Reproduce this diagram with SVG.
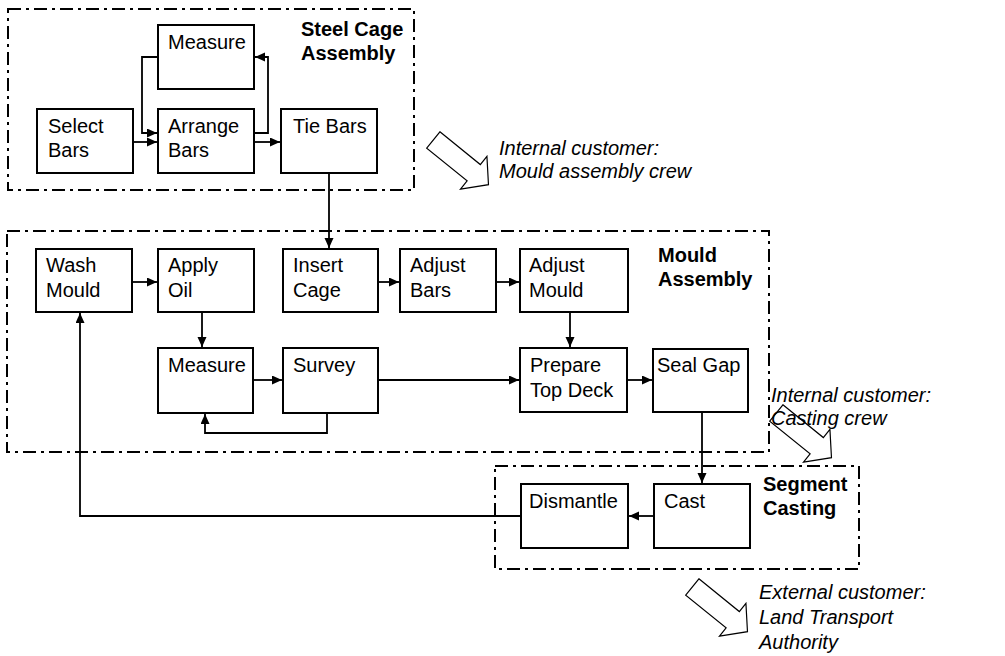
<svg xmlns="http://www.w3.org/2000/svg" width="1005" height="656" viewBox="0 0 1005 656">
<style>
text{font-family:"Liberation Sans",Arial,sans-serif;font-size:20px;fill:#000}
.t{font-weight:bold}
.i{font-style:italic}
.box{fill:#fff;stroke:#000;stroke-width:2}
.grp{fill:none;stroke:#000;stroke-width:2;stroke-dasharray:13 5 3 5}
.c{fill:none;stroke:#000;stroke-width:1.8}
.blk{fill:#fff;stroke:#000;stroke-width:1.2}
</style>
<defs>
<marker id="ah" markerUnits="userSpaceOnUse" markerWidth="12" markerHeight="10" refX="10" refY="4.5" orient="auto"><path d="M0,0 L10,4.5 L0,9 z" fill="#000"/></marker>
<polygon id="blkarrow" points="0,-10.5 52,-10.5 52,-21 71,0 52,21 52,10.5 0,10.5"/>
</defs>
<rect width="1005" height="656" fill="#fff"/>

<g id="groups">
<rect class="grp" x="8" y="9" width="406" height="181"/>
<rect class="grp" x="7" y="231" width="762" height="221"/>
<rect class="grp" x="495" y="466" width="364" height="103"/>
<text class="t" x="301" y="36">Steel Cage</text>
<text class="t" x="301" y="60">Assembly</text>
<text class="t" x="658" y="262">Mould</text>
<text class="t" x="658" y="286">Assembly</text>
<text class="t" x="763" y="491">Segment</text>
<text class="t" x="763" y="515">Casting</text>
</g>

<g id="connectors">
<path class="c" d="M133,142 H157" marker-end="url(#ah)"/>
<path class="c" d="M254,142 H280" marker-end="url(#ah)"/>
<path class="c" d="M158,57 H142 V133 H157" marker-end="url(#ah)"/>
<path class="c" d="M254,133 H268 V57 H255" marker-end="url(#ah)"/>
<path class="c" d="M329,173 V248" marker-end="url(#ah)"/>
<path class="c" d="M132,282 H157" marker-end="url(#ah)"/>
<path class="c" d="M378,282 H399" marker-end="url(#ah)"/>
<path class="c" d="M496,282 H519" marker-end="url(#ah)"/>
<path class="c" d="M202,312 V347" marker-end="url(#ah)"/>
<path class="c" d="M253,380 H282" marker-end="url(#ah)"/>
<path class="c" d="M327,413 V433 H205 V414" marker-end="url(#ah)"/>
<path class="c" d="M378,380 H519" marker-end="url(#ah)"/>
<path class="c" d="M570,312 V347" marker-end="url(#ah)"/>
<path class="c" d="M627,380 H652" marker-end="url(#ah)"/>
<path class="c" d="M702,412 V483" marker-end="url(#ah)"/>
<path class="c" d="M654,516 H629" marker-end="url(#ah)"/>
<path class="c" d="M521,516 H80 V313" marker-end="url(#ah)"/>
</g>

<g id="n-measure1"><rect class="box" x="158" y="25" width="96" height="64"/><text x="168" y="49">Measure</text></g>
<g id="n-select"><rect class="box" x="37" y="109" width="96" height="64"/><text x="48" y="133">Select</text><text x="48" y="157">Bars</text></g>
<g id="n-arrange"><rect class="box" x="158" y="109" width="96" height="64"/><text x="168" y="133">Arrange</text><text x="168" y="157">Bars</text></g>
<g id="n-tie"><rect class="box" x="281" y="109" width="96" height="64"/><text x="293" y="133">Tie Bars</text></g>

<g id="n-wash"><rect class="box" x="36" y="249" width="96" height="63"/><text x="46" y="272">Wash</text><text x="46" y="297">Mould</text></g>
<g id="n-oil"><rect class="box" x="158" y="249" width="96" height="63"/><text x="168" y="272">Apply</text><text x="168" y="297">Oil</text></g>
<g id="n-insert"><rect class="box" x="283" y="249" width="95" height="63"/><text x="293" y="272">Insert</text><text x="293" y="297">Cage</text></g>
<g id="n-adjbars"><rect class="box" x="400" y="249" width="96" height="63"/><text x="410" y="272">Adjust</text><text x="410" y="297">Bars</text></g>
<g id="n-adjmould"><rect class="box" x="520" y="249" width="108" height="63"/><text x="529" y="272">Adjust</text><text x="529" y="297">Mould</text></g>
<g id="n-measure2"><rect class="box" x="158" y="348" width="95" height="65"/><text x="168" y="372">Measure</text></g>
<g id="n-survey"><rect class="box" x="283" y="348" width="95" height="65"/><text x="293" y="372">Survey</text></g>
<g id="n-prepare"><rect class="box" x="520" y="348" width="107" height="64"/><text x="530" y="372">Prepare</text><text x="530" y="397">Top Deck</text></g>
<g id="n-seal"><rect class="box" x="653" y="349" width="95" height="63"/><text x="657" y="372">Seal Gap</text></g>

<g id="n-dismantle"><rect class="box" x="521" y="484" width="107" height="64"/><text x="529" y="508">Dismantle</text></g>
<g id="n-cast"><rect class="box" x="654" y="484" width="96" height="64"/><text x="664" y="508">Cast</text></g>

<g id="customers">
<use href="#blkarrow" class="blk" transform="translate(433.3,140) rotate(39)"/>
<use href="#blkarrow" class="blk" transform="translate(776.3,413) rotate(39)"/>
<use href="#blkarrow" class="blk" transform="translate(692.3,587) rotate(39)"/>
<text class="i" x="499" y="155">Internal customer:</text>
<text class="i" x="499" y="178">Mould assembly crew</text>
<text class="i" x="771" y="402">Internal customer:</text>
<text class="i" x="771" y="425">Casting crew</text>
<text class="i" x="759" y="599">External customer:</text>
<text class="i" x="759" y="624">Land Transport</text>
<text class="i" x="759" y="649">Authority</text>
</g>
</svg>
